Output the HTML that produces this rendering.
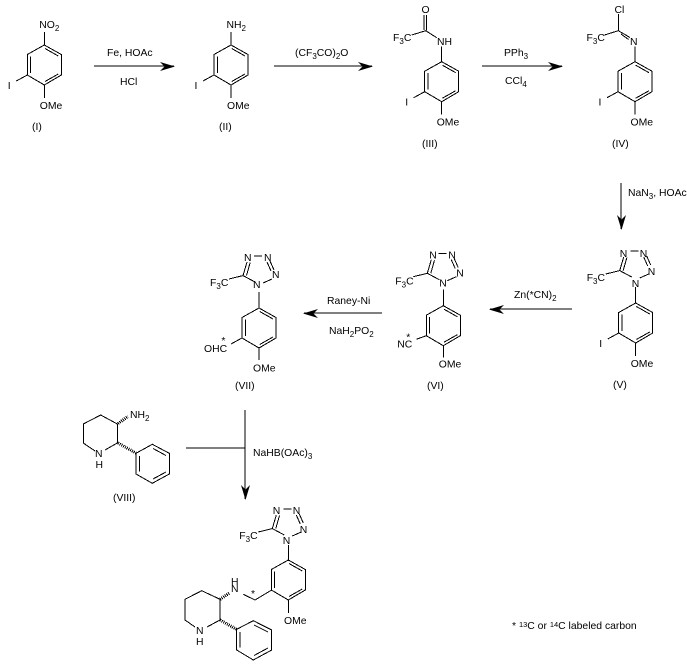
<!DOCTYPE html>
<html><head><meta charset="utf-8"><style>
html,body{margin:0;padding:0;background:#fff}
svg{display:block}
text{font-family:"Liberation Sans",Arial,sans-serif;font-size:10.4px;fill:#000}
.b{stroke:#000;stroke-width:1;fill:none;shape-rendering:crispEdges}
.h{stroke:#000;stroke-width:3;stroke-dasharray:1 1;fill:none;shape-rendering:crispEdges}
tspan.s{font-size:8px}
tspan.u{font-size:7.500px}
</style></head><body>
<svg width="687" height="671" viewBox="0 0 687 671" xmlns="http://www.w3.org/2000/svg">
<defs>
<g id="r" class="b"><path d="M0 0L17 9.5V30L0 40L-17 30V9.5Z M-13.7 11.5V28 M.7 3.5L14 11 M.7 36.5L14 29"/></g>
<g id="tz" class="b"><path d="M0-16V0 M-4-26L-16-32.4 M-16-32.4L-12-46 M-12.5-32.5L-8.8-45.5 M-5-52H3 M11-47L15-38 M8-46L12-37 M13-29L4-25 M-30-29L-16-32.4"/></g>
<path id="ah" d="M0 0L-15-4.5L-10.5 0L-15 4.5Z" fill="#000"/>
</defs>

<!-- I -->
<g transform="translate(44.3,45)"><use href="#r"/><path class="b" d="M-17 30L-28 36 M0 40V53 M0-13V0"/>
<text x="-5" y="-17">NO<tspan class="s" dy="3">2</tspan></text>
<text x="-36.5" y="44">I</text><text x="-4.5" y="64">OMe</text></g>
<text x="32" y="130">(I)</text>
<!-- II -->
<g transform="translate(231,45)"><use href="#r"/><path class="b" d="M-17 30L-28 36 M0 40V53 M0-13V0"/>
<text x="-4.5" y="-17">NH<tspan class="s" dy="3">2</tspan></text>
<text x="-36.5" y="44">I</text><text x="-4" y="64">OMe</text></g>
<text x="219" y="130">(II)</text>
<!-- III -->
<g transform="translate(441.7,61.7)"><use href="#r"/><path class="b" d="M-17 30L-28 36 M0 40V53 M0-15V0"/>
<text x="-36.5" y="44">I</text><text x="-5" y="64">OMe</text></g>
<path class="b" d="M424 15V30 M426.7 15V30.7 M411.7 35L425.7 30.7L436.7 37.7"/>
<text x="421.5" y="13">O</text><text x="437" y="45">NH</text>
<text x="393" y="41">F<tspan class="s" dy="3">3</tspan><tspan dy="-3">C</tspan></text>
<text x="422" y="147">(III)</text>
<!-- IV -->
<g transform="translate(635,61.7)"><use href="#r"/><path class="b" d="M-17 30L-28 36 M0 40V53 M0-15V0"/>
<text x="-36.5" y="44">I</text><text x="-4.5" y="64">OMe</text></g>
<path class="b" d="M618.3 14V30.7 M604.5 35L618.3 30.7L630 37.5 M621 34L628.5 39.5"/>
<text x="614.5" y="13">Cl</text><text x="630" y="45">N</text>
<text x="586.5" y="41">F<tspan class="s" dy="3">3</tspan><tspan dy="-3">C</tspan></text>
<text x="612" y="147">(IV)</text>
<!-- V -->
<g transform="translate(635.7,303)"><use href="#r"/><use href="#tz"/><path class="b" d="M-17 30L-28 36 M0 40V53"/>
<text x="-36.5" y="44">I</text><text x="-5" y="64">OMe</text>
<text x="-16" y="-46">N</text><text x="4" y="-46">N</text><text x="12" y="-28">N</text><text x="-4" y="-16">N</text>
<text x="-49" y="-22">F<tspan class="s" dy="3">3</tspan><tspan dy="-3">C</tspan></text></g>
<text x="613" y="388">(V)</text>
<!-- VI -->
<g transform="translate(443.3,305.7)"><use href="#r"/><use href="#tz"/><path class="b" d="M-17 30L-27 33.6 M0 40V52"/>
<text x="-46" y="42">NC</text><text x="-37" y="34.800">*</text><text x="-4.5" y="62">OMe</text>
<text x="-14" y="-47">N</text><text x="5" y="-47">N</text><text x="13" y="-29">N</text><text x="-4" y="-19">N</text>
<text x="-48" y="-21">F<tspan class="s" dy="3">3</tspan><tspan dy="-3">C</tspan></text></g>
<text x="427" y="389">(VI)</text>
<!-- VII -->
<g transform="translate(259,308)"><use href="#r"/><use href="#tz"/><path class="b" d="M-17 30L-28 36 M0 39V52"/>
<text x="-55" y="44">OHC</text><text x="-37.700" y="35.800">*</text><text x="-6" y="63.500">OMe</text>
<text x="-15" y="-47">N</text><text x="5" y="-47">N</text><text x="13" y="-30">N</text><text x="-6" y="-20">N</text>
<text x="-49" y="-22">F<tspan class="s" dy="3">3</tspan><tspan dy="-3">C</tspan></text></g>
<text x="235" y="389">(VII)</text>
<!-- VIII -->
<path class="b" d="M95 451L83.300 443V424L100.700 415L117.300 424V443L105 450"/>
<path class="h" d="M118 423.500L128 416.500 M118 443L136 453"/>
<path class="b" d="M136 453.300L152.300 444.300L169.300 453.300V474L152.300 483.300L136 474Z M139.500 456V471.500 M153 448.500L166 455.500 M153 479L166 472"/>
<text x="95" y="457">N</text><text x="95.500" y="468">H</text>
<text x="130" y="418">NH<tspan class="s" dy="3">2</tspan></text>
<text x="113" y="501">(VIII)</text>
<!-- final -->
<g transform="translate(288.300,561)"><use href="#tz"/>
<text x="-15.500" y="-47">N</text><text x="4.500" y="-47">N</text><text x="11.500" y="-28">N</text><text x="-5.500" y="-17">N</text>
<text x="-49" y="-22">F<tspan class="s" dy="3">3</tspan><tspan dy="-3">C</tspan></text></g>
<use href="#r" x="288.300" y="560"/>
<path class="b" d="M288.300 600V613 M271.700 590L255 600L243.300 594.300"/>
<text x="231" y="592">N</text><text x="231" y="585">H</text><text x="251" y="597">*</text>
<text x="284" y="624">OMe</text>
<path class="b" d="M195 627L185 620V599.300L201.700 590.700L220 599.300V620L207 627"/>
<path class="h" d="M220 599.300L230 592.700 M220 620L236.700 629.300"/>
<path class="b" d="M236.700 629.300L253.300 620.700L271.700 630V650L253.300 660L236.700 650Z M240 632V647.500 M254 625L268 632 M254 655.500L268 648"/>
<text x="196" y="634">N</text><text x="196" y="645">H</text>
<!-- arrows -->
<path class="b" d="M94 66H174"/><use href="#ah" x="175" y="66.500"/>
<path class="b" d="M274 66H372"/><use href="#ah" x="373" y="66.500"/>
<path class="b" d="M482 66H562"/><use href="#ah" x="563" y="66.500"/>
<path class="b" d="M621 183V229"/><g transform="translate(621.500,230) rotate(90)"><use href="#ah"/></g>
<path class="b" d="M572 309H490"/><g transform="translate(489,309.500) rotate(180)"><use href="#ah"/></g>
<path class="b" d="M382 313H304"/><g transform="translate(303,313.500) rotate(180)"><use href="#ah"/></g>
<path class="b" d="M186 448H245 M245 410V499"/><g transform="translate(245.500,500) rotate(90)"><use href="#ah"/></g>
<!-- labels -->
<text x="107" y="56">Fe, HOAc</text>
<text x="120" y="85">HCl</text>
<text x="295" y="56">(CF<tspan class="s" dy="3">3</tspan><tspan dy="-3">CO)</tspan><tspan class="s" dy="3">2</tspan><tspan dy="-3">O</tspan></text>
<text x="504" y="56">PPh<tspan class="s" dy="3">3</tspan></text>
<text x="505" y="84">CCl<tspan class="s" dy="3">4</tspan></text>
<text x="628" y="196">NaN<tspan class="s" dy="3">3</tspan><tspan dy="-3">, HOAc</tspan></text>
<text x="514" y="298">Zn(*CN)<tspan class="s" dy="3">2</tspan></text>
<text x="327" y="304">Raney-Ni</text>
<text x="329" y="334">NaH<tspan class="s" dy="3">2</tspan><tspan dy="-3">PO</tspan><tspan class="s" dy="3">2</tspan></text>
<text x="253" y="456">NaHB(OAc)<tspan class="s" dy="3">3</tspan></text>
<text x="512" y="629">* <tspan class="u" dy="-2">13</tspan><tspan dy="2">C or </tspan><tspan class="u" dy="-2">14</tspan><tspan dy="2">C labeled carbon</tspan></text>
</svg>
</body></html>
